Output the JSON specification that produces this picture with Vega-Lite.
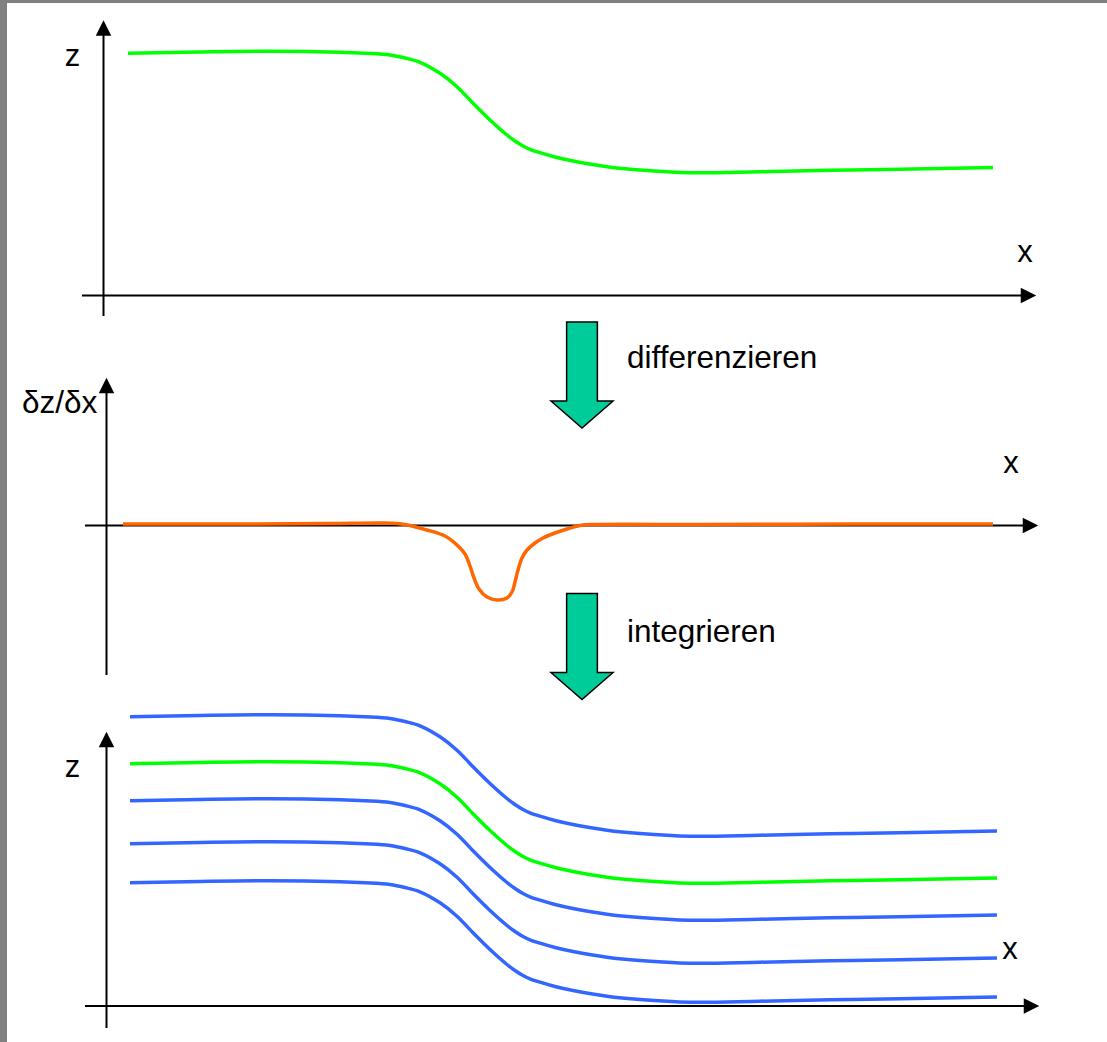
{
  "$schema": "https://vega.github.io/schema/vega-lite/v6.json",
  "width": 1107,
  "height": 1042,
  "padding": 0,
  "autosize": "none",
  "background": "#808080",
  "config": {"view": {"stroke": null}},
  "datasets": {
    "frame": [{"x1": 7, "x2": 1107, "y1": 3, "y2": 1042}],
    "axes": [
      {"x1": 103.5, "x2": 103.5, "y1": 30, "y2": 316},
      {"x1": 82, "x2": 1024, "y1": 295.5, "y2": 295.5},
      {"x1": 106.5, "x2": 106.5, "y1": 388, "y2": 675},
      {"x1": 85, "x2": 1026, "y1": 525.5, "y2": 525.5},
      {"x1": 106.5, "x2": 106.5, "y1": 742, "y2": 1028},
      {"x1": 85, "x2": 1027, "y1": 1006, "y2": 1006}
    ],
    "heads": [
      {"dir": "up", "x": 103.5, "y": 28},
      {"dir": "right", "x": 1028.5, "y": 295.5},
      {"dir": "up", "x": 106.5, "y": 385.5},
      {"dir": "right", "x": 1030.5, "y": 525.5},
      {"dir": "up", "x": 106.5, "y": 739.5},
      {"dir": "right", "x": 1031.5, "y": 1006}
    ],
    "blocks": [
      {"step": "differenzieren", "x": 582, "y": 375},
      {"step": "integrieren", "x": 582, "y": 646.5}
    ],
    "labels": [
      {"text": "z", "x": 72.5, "y": 66, "pos": "center"},
      {"text": "x", "x": 1025, "y": 262, "pos": "center"},
      {"text": "x", "x": 1011, "y": 473, "pos": "center"},
      {"text": "z", "x": 72.5, "y": 776.5, "pos": "center"},
      {"text": "x", "x": 1010, "y": 959, "pos": "center"},
      {"text": "δz/δx", "x": 22, "y": 413, "pos": "left"},
      {"text": "differenzieren", "x": 627, "y": 368, "pos": "left"},
      {"text": "integrieren", "x": 627, "y": 642, "pos": "left"}
    ],
    "curves": [
      {"curve": "c0", "family": "original", "x": 128, "y": 53.3},
      {"curve": "c0", "family": "original", "x": 200, "y": 52.0},
      {"curve": "c0", "family": "original", "x": 270, "y": 51.3},
      {"curve": "c0", "family": "original", "x": 340, "y": 52.3},
      {"curve": "c0", "family": "original", "x": 365, "y": 53.3},
      {"curve": "c0", "family": "original", "x": 390, "y": 55.0},
      {"curve": "c0", "family": "original", "x": 405, "y": 58.0},
      {"curve": "c0", "family": "original", "x": 420, "y": 62.3},
      {"curve": "c0", "family": "original", "x": 440, "y": 73.3},
      {"curve": "c0", "family": "original", "x": 457, "y": 86.7},
      {"curve": "c0", "family": "original", "x": 473, "y": 103.3},
      {"curve": "c0", "family": "original", "x": 490, "y": 120.0},
      {"curve": "c0", "family": "original", "x": 507, "y": 135.0},
      {"curve": "c0", "family": "original", "x": 515, "y": 141.0},
      {"curve": "c0", "family": "original", "x": 523, "y": 146.0},
      {"curve": "c0", "family": "original", "x": 530, "y": 149.3},
      {"curve": "c0", "family": "original", "x": 540, "y": 152.7},
      {"curve": "c0", "family": "original", "x": 555, "y": 157.0},
      {"curve": "c0", "family": "original", "x": 573, "y": 161.0},
      {"curve": "c0", "family": "original", "x": 607, "y": 166.7},
      {"curve": "c0", "family": "original", "x": 640, "y": 170.0},
      {"curve": "c0", "family": "original", "x": 690, "y": 172.7},
      {"curve": "c0", "family": "original", "x": 760, "y": 171.7},
      {"curve": "c0", "family": "original", "x": 830, "y": 170.3},
      {"curve": "c0", "family": "original", "x": 900, "y": 169.3},
      {"curve": "c0", "family": "original", "x": 993, "y": 167.5},

      {"curve": "d", "family": "derivative", "x": 123, "y": 524},
      {"curve": "d", "family": "derivative", "x": 250, "y": 524},
      {"curve": "d", "family": "derivative", "x": 330, "y": 523.5},
      {"curve": "d", "family": "derivative", "x": 385, "y": 523},
      {"curve": "d", "family": "derivative", "x": 405, "y": 524.5},
      {"curve": "d", "family": "derivative", "x": 427, "y": 530},
      {"curve": "d", "family": "derivative", "x": 445, "y": 536},
      {"curve": "d", "family": "derivative", "x": 457, "y": 545},
      {"curve": "d", "family": "derivative", "x": 465, "y": 554},
      {"curve": "d", "family": "derivative", "x": 470, "y": 566},
      {"curve": "d", "family": "derivative", "x": 474, "y": 578},
      {"curve": "d", "family": "derivative", "x": 479, "y": 589},
      {"curve": "d", "family": "derivative", "x": 487, "y": 597},
      {"curve": "d", "family": "derivative", "x": 498, "y": 600},
      {"curve": "d", "family": "derivative", "x": 507, "y": 598},
      {"curve": "d", "family": "derivative", "x": 512, "y": 592},
      {"curve": "d", "family": "derivative", "x": 515, "y": 582},
      {"curve": "d", "family": "derivative", "x": 518, "y": 570},
      {"curve": "d", "family": "derivative", "x": 522, "y": 558},
      {"curve": "d", "family": "derivative", "x": 527, "y": 550},
      {"curve": "d", "family": "derivative", "x": 535, "y": 543},
      {"curve": "d", "family": "derivative", "x": 543, "y": 538},
      {"curve": "d", "family": "derivative", "x": 555, "y": 533},
      {"curve": "d", "family": "derivative", "x": 567, "y": 529},
      {"curve": "d", "family": "derivative", "x": 580, "y": 525.5},
      {"curve": "d", "family": "derivative", "x": 600, "y": 524.5},
      {"curve": "d", "family": "derivative", "x": 700, "y": 524.5},
      {"curve": "d", "family": "derivative", "x": 850, "y": 524},
      {"curve": "d", "family": "derivative", "x": 993, "y": 524},

      {"curve": "i1", "family": "integral", "x": 130, "y": 716.8},
      {"curve": "i1", "family": "integral", "x": 200, "y": 715.5},
      {"curve": "i1", "family": "integral", "x": 270, "y": 714.8},
      {"curve": "i1", "family": "integral", "x": 340, "y": 715.8},
      {"curve": "i1", "family": "integral", "x": 365, "y": 716.8},
      {"curve": "i1", "family": "integral", "x": 390, "y": 718.5},
      {"curve": "i1", "family": "integral", "x": 405, "y": 721.5},
      {"curve": "i1", "family": "integral", "x": 420, "y": 725.8},
      {"curve": "i1", "family": "integral", "x": 440, "y": 736.8},
      {"curve": "i1", "family": "integral", "x": 457, "y": 750.2},
      {"curve": "i1", "family": "integral", "x": 473, "y": 766.8},
      {"curve": "i1", "family": "integral", "x": 490, "y": 783.5},
      {"curve": "i1", "family": "integral", "x": 507, "y": 798.5},
      {"curve": "i1", "family": "integral", "x": 515, "y": 804.5},
      {"curve": "i1", "family": "integral", "x": 523, "y": 809.5},
      {"curve": "i1", "family": "integral", "x": 530, "y": 812.8},
      {"curve": "i1", "family": "integral", "x": 540, "y": 816.2},
      {"curve": "i1", "family": "integral", "x": 555, "y": 820.5},
      {"curve": "i1", "family": "integral", "x": 573, "y": 824.5},
      {"curve": "i1", "family": "integral", "x": 607, "y": 830.2},
      {"curve": "i1", "family": "integral", "x": 640, "y": 833.5},
      {"curve": "i1", "family": "integral", "x": 690, "y": 836.2},
      {"curve": "i1", "family": "integral", "x": 760, "y": 835.2},
      {"curve": "i1", "family": "integral", "x": 830, "y": 833.8},
      {"curve": "i1", "family": "integral", "x": 900, "y": 832.8},
      {"curve": "i1", "family": "integral", "x": 997, "y": 831.0},

      {"curve": "i2", "family": "original", "x": 130, "y": 763.8},
      {"curve": "i2", "family": "original", "x": 200, "y": 762.5},
      {"curve": "i2", "family": "original", "x": 270, "y": 761.8},
      {"curve": "i2", "family": "original", "x": 340, "y": 762.8},
      {"curve": "i2", "family": "original", "x": 365, "y": 763.8},
      {"curve": "i2", "family": "original", "x": 390, "y": 765.5},
      {"curve": "i2", "family": "original", "x": 405, "y": 768.5},
      {"curve": "i2", "family": "original", "x": 420, "y": 772.8},
      {"curve": "i2", "family": "original", "x": 440, "y": 783.8},
      {"curve": "i2", "family": "original", "x": 457, "y": 797.2},
      {"curve": "i2", "family": "original", "x": 473, "y": 813.8},
      {"curve": "i2", "family": "original", "x": 490, "y": 830.5},
      {"curve": "i2", "family": "original", "x": 507, "y": 845.5},
      {"curve": "i2", "family": "original", "x": 515, "y": 851.5},
      {"curve": "i2", "family": "original", "x": 523, "y": 856.5},
      {"curve": "i2", "family": "original", "x": 530, "y": 859.8},
      {"curve": "i2", "family": "original", "x": 540, "y": 863.2},
      {"curve": "i2", "family": "original", "x": 555, "y": 867.5},
      {"curve": "i2", "family": "original", "x": 573, "y": 871.5},
      {"curve": "i2", "family": "original", "x": 607, "y": 877.2},
      {"curve": "i2", "family": "original", "x": 640, "y": 880.5},
      {"curve": "i2", "family": "original", "x": 690, "y": 883.2},
      {"curve": "i2", "family": "original", "x": 760, "y": 882.2},
      {"curve": "i2", "family": "original", "x": 830, "y": 880.8},
      {"curve": "i2", "family": "original", "x": 900, "y": 879.8},
      {"curve": "i2", "family": "original", "x": 997, "y": 878.0},

      {"curve": "i3", "family": "integral", "x": 130, "y": 800.8},
      {"curve": "i3", "family": "integral", "x": 200, "y": 799.5},
      {"curve": "i3", "family": "integral", "x": 270, "y": 798.8},
      {"curve": "i3", "family": "integral", "x": 340, "y": 799.8},
      {"curve": "i3", "family": "integral", "x": 365, "y": 800.8},
      {"curve": "i3", "family": "integral", "x": 390, "y": 802.5},
      {"curve": "i3", "family": "integral", "x": 405, "y": 805.5},
      {"curve": "i3", "family": "integral", "x": 420, "y": 809.8},
      {"curve": "i3", "family": "integral", "x": 440, "y": 820.8},
      {"curve": "i3", "family": "integral", "x": 457, "y": 834.2},
      {"curve": "i3", "family": "integral", "x": 473, "y": 850.8},
      {"curve": "i3", "family": "integral", "x": 490, "y": 867.5},
      {"curve": "i3", "family": "integral", "x": 507, "y": 882.5},
      {"curve": "i3", "family": "integral", "x": 515, "y": 888.5},
      {"curve": "i3", "family": "integral", "x": 523, "y": 893.5},
      {"curve": "i3", "family": "integral", "x": 530, "y": 896.8},
      {"curve": "i3", "family": "integral", "x": 540, "y": 900.2},
      {"curve": "i3", "family": "integral", "x": 555, "y": 904.5},
      {"curve": "i3", "family": "integral", "x": 573, "y": 908.5},
      {"curve": "i3", "family": "integral", "x": 607, "y": 914.2},
      {"curve": "i3", "family": "integral", "x": 640, "y": 917.5},
      {"curve": "i3", "family": "integral", "x": 690, "y": 920.2},
      {"curve": "i3", "family": "integral", "x": 760, "y": 919.2},
      {"curve": "i3", "family": "integral", "x": 830, "y": 917.8},
      {"curve": "i3", "family": "integral", "x": 900, "y": 916.8},
      {"curve": "i3", "family": "integral", "x": 997, "y": 915.0},

      {"curve": "i4", "family": "integral", "x": 130, "y": 843.8},
      {"curve": "i4", "family": "integral", "x": 200, "y": 842.5},
      {"curve": "i4", "family": "integral", "x": 270, "y": 841.8},
      {"curve": "i4", "family": "integral", "x": 340, "y": 842.8},
      {"curve": "i4", "family": "integral", "x": 365, "y": 843.8},
      {"curve": "i4", "family": "integral", "x": 390, "y": 845.5},
      {"curve": "i4", "family": "integral", "x": 405, "y": 848.5},
      {"curve": "i4", "family": "integral", "x": 420, "y": 852.8},
      {"curve": "i4", "family": "integral", "x": 440, "y": 863.8},
      {"curve": "i4", "family": "integral", "x": 457, "y": 877.2},
      {"curve": "i4", "family": "integral", "x": 473, "y": 893.8},
      {"curve": "i4", "family": "integral", "x": 490, "y": 910.5},
      {"curve": "i4", "family": "integral", "x": 507, "y": 925.5},
      {"curve": "i4", "family": "integral", "x": 515, "y": 931.5},
      {"curve": "i4", "family": "integral", "x": 523, "y": 936.5},
      {"curve": "i4", "family": "integral", "x": 530, "y": 939.8},
      {"curve": "i4", "family": "integral", "x": 540, "y": 943.2},
      {"curve": "i4", "family": "integral", "x": 555, "y": 947.5},
      {"curve": "i4", "family": "integral", "x": 573, "y": 951.5},
      {"curve": "i4", "family": "integral", "x": 607, "y": 957.2},
      {"curve": "i4", "family": "integral", "x": 640, "y": 960.5},
      {"curve": "i4", "family": "integral", "x": 690, "y": 963.2},
      {"curve": "i4", "family": "integral", "x": 760, "y": 962.2},
      {"curve": "i4", "family": "integral", "x": 830, "y": 960.8},
      {"curve": "i4", "family": "integral", "x": 900, "y": 959.8},
      {"curve": "i4", "family": "integral", "x": 997, "y": 958.0},

      {"curve": "i5", "family": "integral", "x": 130, "y": 882.8},
      {"curve": "i5", "family": "integral", "x": 200, "y": 881.5},
      {"curve": "i5", "family": "integral", "x": 270, "y": 880.8},
      {"curve": "i5", "family": "integral", "x": 340, "y": 881.8},
      {"curve": "i5", "family": "integral", "x": 365, "y": 882.8},
      {"curve": "i5", "family": "integral", "x": 390, "y": 884.5},
      {"curve": "i5", "family": "integral", "x": 405, "y": 887.5},
      {"curve": "i5", "family": "integral", "x": 420, "y": 891.8},
      {"curve": "i5", "family": "integral", "x": 440, "y": 902.8},
      {"curve": "i5", "family": "integral", "x": 457, "y": 916.2},
      {"curve": "i5", "family": "integral", "x": 473, "y": 932.8},
      {"curve": "i5", "family": "integral", "x": 490, "y": 949.5},
      {"curve": "i5", "family": "integral", "x": 507, "y": 964.5},
      {"curve": "i5", "family": "integral", "x": 515, "y": 970.5},
      {"curve": "i5", "family": "integral", "x": 523, "y": 975.5},
      {"curve": "i5", "family": "integral", "x": 530, "y": 978.8},
      {"curve": "i5", "family": "integral", "x": 540, "y": 982.2},
      {"curve": "i5", "family": "integral", "x": 555, "y": 986.5},
      {"curve": "i5", "family": "integral", "x": 573, "y": 990.5},
      {"curve": "i5", "family": "integral", "x": 607, "y": 996.2},
      {"curve": "i5", "family": "integral", "x": 640, "y": 999.5},
      {"curve": "i5", "family": "integral", "x": 690, "y": 1002.2},
      {"curve": "i5", "family": "integral", "x": 760, "y": 1001.2},
      {"curve": "i5", "family": "integral", "x": 830, "y": 999.8},
      {"curve": "i5", "family": "integral", "x": 900, "y": 998.8},
      {"curve": "i5", "family": "integral", "x": 997, "y": 997.0}
    ]
  },
  "layer": [
    {
      "data": {"name": "frame"},
      "mark": {"type": "rect", "fill": "#ffffff"},
      "encoding": {
        "x": {"field": "x1", "type": "quantitative", "scale": {"domain": [0, 1107], "nice": false, "zero": false}, "axis": null},
        "x2": {"field": "x2"},
        "y": {"field": "y1", "type": "quantitative", "scale": {"domain": [0, 1042], "nice": false, "zero": false, "reverse": true}, "axis": null},
        "y2": {"field": "y2"}
      }
    },
    {
      "data": {"name": "axes"},
      "mark": {"type": "rule", "color": "#000000", "strokeWidth": 2},
      "encoding": {
        "x": {"field": "x1", "type": "quantitative", "scale": {"domain": [0, 1107], "nice": false, "zero": false}, "axis": null},
        "x2": {"field": "x2"},
        "y": {"field": "y1", "type": "quantitative", "scale": {"domain": [0, 1042], "nice": false, "zero": false, "reverse": true}, "axis": null},
        "y2": {"field": "y2"}
      }
    },
    {
      "data": {"name": "heads"},
      "mark": {"type": "point", "filled": true, "color": "#000000", "opacity": 1, "size": 240},
      "encoding": {
        "x": {"field": "x", "type": "quantitative", "scale": {"domain": [0, 1107], "nice": false, "zero": false}, "axis": null},
        "y": {"field": "y", "type": "quantitative", "scale": {"domain": [0, 1042], "nice": false, "zero": false, "reverse": true}, "axis": null},
        "shape": {"field": "dir", "type": "nominal", "scale": {"domain": ["up", "right"], "range": ["M0,-1L1,1L-1,1Z", "M1,0L-1,1L-1,-1Z"]}, "legend": null}
      }
    },
    {
      "data": {"name": "curves"},
      "mark": {"type": "line", "interpolate": "catmull-rom", "strokeWidth": 3.5, "strokeCap": "butt"},
      "encoding": {
        "x": {"field": "x", "type": "quantitative", "scale": {"domain": [0, 1107], "nice": false, "zero": false}, "axis": null},
        "y": {"field": "y", "type": "quantitative", "scale": {"domain": [0, 1042], "nice": false, "zero": false, "reverse": true}, "axis": null},
        "detail": {"field": "curve", "type": "nominal"},
        "color": {"field": "family", "type": "nominal", "scale": {"domain": ["original", "derivative", "integral"], "range": ["#00ff00", "#ff6600", "#3366ff"]}, "legend": null},
        "order": {"field": "x", "type": "quantitative"}
      }
    },
    {
      "data": {"name": "blocks"},
      "mark": {"type": "point", "filled": true, "fill": "#00cc99", "stroke": "#000000", "strokeWidth": 1.5, "opacity": 1, "fillOpacity": 1, "size": 11236, "shape": "M-0.29,-1L0.29,-1L0.29,0.49L0.585,0.49L0,1L-0.585,0.49L-0.29,0.49Z"},
      "encoding": {
        "x": {"field": "x", "type": "quantitative", "scale": {"domain": [0, 1107], "nice": false, "zero": false}, "axis": null},
        "y": {"field": "y", "type": "quantitative", "scale": {"domain": [0, 1042], "nice": false, "zero": false, "reverse": true}, "axis": null}
      }
    },
    {
      "data": {"name": "labels"},
      "transform": [{"filter": "datum.pos === 'center'"}],
      "mark": {"type": "text", "font": "Liberation Sans", "fontSize": 31, "align": "center", "baseline": "alphabetic", "color": "#000000"},
      "encoding": {
        "x": {"field": "x", "type": "quantitative", "scale": {"domain": [0, 1107], "nice": false, "zero": false}, "axis": null},
        "y": {"field": "y", "type": "quantitative", "scale": {"domain": [0, 1042], "nice": false, "zero": false, "reverse": true}, "axis": null},
        "text": {"field": "text", "type": "nominal"}
      }
    },
    {
      "data": {"name": "labels"},
      "transform": [{"filter": "datum.pos === 'left'"}],
      "mark": {"type": "text", "font": "Liberation Sans", "fontSize": 31.5, "align": "left", "baseline": "alphabetic", "color": "#000000"},
      "encoding": {
        "x": {"field": "x", "type": "quantitative", "scale": {"domain": [0, 1107], "nice": false, "zero": false}, "axis": null},
        "y": {"field": "y", "type": "quantitative", "scale": {"domain": [0, 1042], "nice": false, "zero": false, "reverse": true}, "axis": null},
        "text": {"field": "text", "type": "nominal"}
      }
    }
  ]
}
